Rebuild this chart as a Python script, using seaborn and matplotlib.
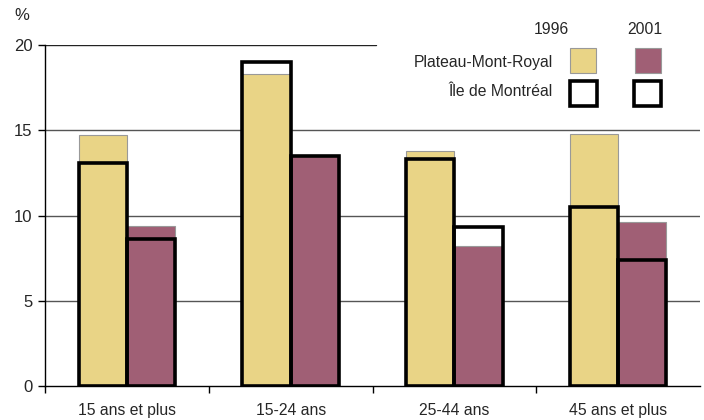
import matplotlib
matplotlib.use("Agg")
import matplotlib.pyplot as plt
from matplotlib.patches import Rectangle
import seaborn as sns
import pandas as pd

categories = ["15 ans et plus", "15-24 ans", "25-44 ans", "45 ans et plus"]
years = ["1996", "2001"]
plateau_1996 = [14.7, 18.3, 13.8, 14.8]
plateau_2001 = [9.4, 13.5, 8.2, 9.6]
ile_1996 = [13.1, 19.0, 13.3, 10.5]
ile_2001 = [8.6, 13.5, 9.3, 7.4]
yticks = [0, 5, 10, 15, 20]

yellow = "#E9D486"
purple = "#A05F75"

sns.set_theme(style="white")
plt.rcParams["font.family"] = ["Liberation Sans", "DejaVu Sans"]

df_p = pd.DataFrame({
    "cat": categories * 2,
    "year": [years[0]] * 4 + [years[1]] * 4,
    "val": plateau_1996 + plateau_2001,
})
df_i = pd.DataFrame({
    "cat": categories * 2,
    "year": [years[0]] * 4 + [years[1]] * 4,
    "val": ile_1996 + ile_2001,
})

fig = plt.figure(figsize=(7.04, 4.2), dpi=100)
ax = fig.add_axes([45 / 704, 34 / 420, 655 / 704, 341 / 420])

for y in [5, 10, 15]:
    ax.axhline(y, color="#555555", lw=1, zorder=0)
ax.axhline(20, xmax=0.506, color="#222222", lw=1, zorder=0)

sns.barplot(data=df_p, x="cat", y="val", hue="year", order=categories,
            hue_order=years, palette=[yellow, purple], width=0.59, gap=0,
            edgecolor="#999999", linewidth=0.8, saturation=1, ax=ax,
            legend=False, zorder=2)
n_before = len(ax.patches)
sns.barplot(data=df_i, x="cat", y="val", hue="year", order=categories,
            hue_order=years, palette=["black", "black"], width=0.59, gap=0,
            linewidth=2.6, saturation=1, ax=ax, legend=False, zorder=3)
for p in ax.patches[n_before:]:
    p.set_facecolor("none")
    p.set_edgecolor("black")
    p.set_linewidth(2.6)
    p.set_zorder(3)

ax.set_xlim(-0.5, 3.5)
ax.set_ylim(0, 20)
ax.set_yticks(yticks)
ax.set_yticklabels([str(v) for v in yticks], fontsize=12)
ax.set_xticks(range(len(categories)))
ax.set_xticklabels(categories, fontsize=11.3)
ax.set_xticks([-0.5, 0.5, 1.5, 2.5], minor=True)
ax.tick_params(axis="x", which="major", length=0, pad=12)
ax.tick_params(axis="x", which="minor", length=5, width=1, color="black", direction="out", bottom=True)
ax.tick_params(axis="y", which="major", length=5, width=1, color="black", direction="out", left=True, pad=4)
ax.set_xlabel("")
ax.set_ylabel("")
for s in ["top", "right"]:
    ax.spines[s].set_visible(False)
ax.spines["left"].set_color("black")
ax.spines["bottom"].set_color("black")
ax.spines["left"].set_linewidth(1)
ax.spines["bottom"].set_linewidth(1)

fig.text(22 / 704, 1 - 16 / 420, "%", fontsize=12, ha="center", va="center")

# custom legend
fig.text(551 / 704, 1 - 29 / 420, "1996", fontsize=11.3, ha="center", va="center")
fig.text(645 / 704, 1 - 29 / 420, "2001", fontsize=11.3, ha="center", va="center")
fig.text(553 / 704, 1 - 62 / 420, "Plateau-Mont-Royal", fontsize=11.3, ha="right", va="center")
fig.text(553 / 704, 1 - 91 / 420, "Île de Montréal", fontsize=11.3, ha="right", va="center")
for x0, c in [(570, yellow), (635, purple)]:
    fig.add_artist(Rectangle((x0 / 704, 1 - 73 / 420), 26 / 704, 25 / 420,
                             facecolor=c, edgecolor="#999999", lw=0.8,
                             transform=fig.transFigure))
for x0 in [570, 634]:
    fig.add_artist(Rectangle((x0 / 704, 1 - 106 / 420), 27 / 704, 25 / 420,
                             facecolor="white", edgecolor="black", lw=2.6,
                             transform=fig.transFigure))

fig.savefig("out.png", dpi=100, facecolor="white")
